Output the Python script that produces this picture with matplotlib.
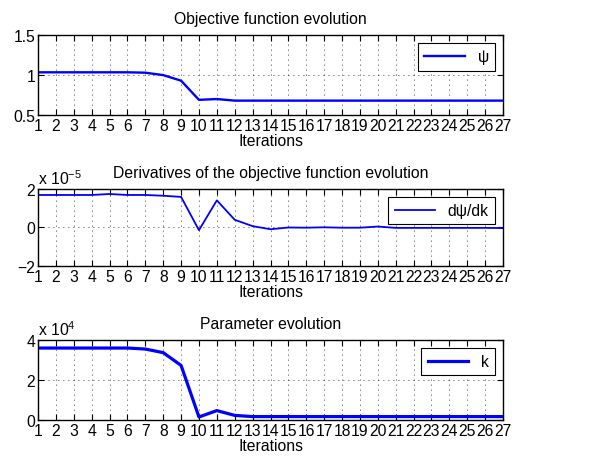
import numpy as np
import matplotlib
matplotlib.use('Agg')
import matplotlib.pyplot as plt
from matplotlib.ticker import FuncFormatter

plt.rcParams['font.family'] = ['Liberation Sans', 'DejaVu Sans']
plt.rcParams['font.size'] = 11.3
plt.rcParams['mathtext.default'] = 'regular'

iterations = np.arange(1, 28)
# objective function psi
psi = [1.035, 1.035, 1.035, 1.035, 1.035, 1.035, 1.03, 1.0, 0.93, 0.69, 0.70,
       0.68, 0.68, 0.68, 0.68, 0.68, 0.68, 0.68, 0.68, 0.68, 0.68, 0.68,
       0.68, 0.68, 0.68, 0.68, 0.68]
# derivative dpsi/dk
dpsi = [1.69e-5, 1.69e-5, 1.69e-5, 1.69e-5, 1.74e-5, 1.69e-5, 1.69e-5,
        1.65e-5, 1.59e-5, -0.14e-5, 1.41e-5, 0.40e-5, 0.07e-5, -0.09e-5,
        0.0, -0.01e-5, 0.01e-5, -0.01e-5, -0.01e-5, 0.05e-5, -0.02e-5,
        -0.02e-5, -0.02e-5, -0.02e-5, -0.02e-5, -0.02e-5, -0.03e-5]
# parameter k
kpar = [3.6e4, 3.6e4, 3.6e4, 3.6e4, 3.6e4, 3.6e4, 3.55e4, 3.37e4, 2.73e4,
        0.15e4, 0.47e4, 0.23e4, 0.17e4, 0.17e4, 0.17e4, 0.17e4, 0.17e4,
        0.17e4, 0.17e4, 0.17e4, 0.17e4, 0.17e4, 0.17e4, 0.17e4, 0.17e4,
        0.17e4, 0.17e4]

fig = plt.figure(figsize=(5.93, 4.64), dpi=100)

panels = [
    # bottom, top, data, label, title, ylim, yticks, exponent, lw
    (0.75, 0.922, psi, 'ψ', 'Objective function evolution', (0.5, 1.5), [0.5, 1, 1.5], None, 1.7),
    (0.4246, 0.5905, dpsi, 'dψ/dk', 'Derivatives of the objective function evolution', (-2e-5, 2e-5), [-2e-5, 0, 2e-5], -5, 1.3),
    (0.0927, 0.265, kpar, 'k', 'Parameter evolution', (0, 4e4), [0, 2e4, 4e4], 4, 2.3),
]


def fmt(v, e):
    if e is not None:
        v = round(v / 10 ** e, 6)
    return ('%g' % v).replace('-', '\u2212')


left, right = 38 / 593, 503 / 593
for bottom, top, data, label, title, ylim, yticks, exp, lw in panels:
    ax = fig.add_axes([left, bottom, right - left, top - bottom])
    ax.plot(iterations, data, color='#0000ff', lw=lw, label=label)
    ax.set_xlim(1, 27)
    ax.set_ylim(*ylim)
    ax.set_xticks(iterations)
    ax.set_yticks(yticks)
    ax.yaxis.set_major_formatter(FuncFormatter(lambda v, p, e=exp: fmt(v, e)))
    if exp is not None:
        ax.text(0, 1.03, 'x 10$^{%s}$' % fmt(exp, None), transform=ax.transAxes,
                ha='left', va='bottom')
    ax.tick_params(direction='in', length=4, top=True, right=True, pad=2,
                   width=0.8)
    ax.grid(True, color='black', linestyle=(0, (1, 5)), linewidth=0.6)
    for s in ax.spines.values():
        s.set_linewidth(1.0)
    ax.set_xlabel('Iterations', labelpad=0)
    ax.set_title(title, fontsize=11.3, pad=9)
    leg = ax.legend(loc='upper right', fancybox=False, framealpha=1,
                    edgecolor='black', handlelength=2.6, borderaxespad=0.5)
    leg.get_frame().set_linewidth(0.8)

fig.savefig('out.png', dpi=100)
